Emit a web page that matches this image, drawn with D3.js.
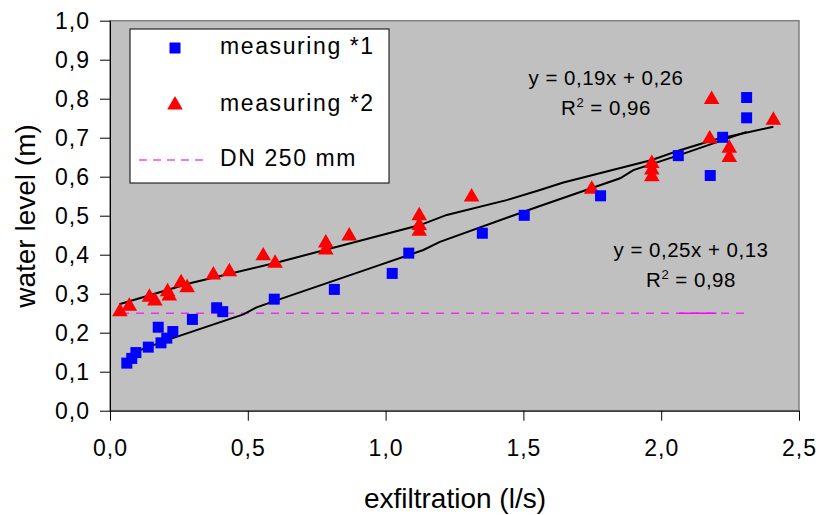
<!DOCTYPE html>
<html>
<head>
<meta charset="utf-8">
<script src="https://cdn.jsdelivr.net/npm/d3@7"></script>
<style>
  body { margin: 0; background: #fff; }
  text { font-family: "Liberation Sans", Arial, sans-serif; fill: #000; }
</style>
</head>
<body>
<div id="chart"></div>
<script>
// measured points (exfiltration l/s, water level m)
const measuring1 = [
  [0.061, 0.122], [0.079, 0.134], [0.094, 0.149], [0.139, 0.163], [0.175, 0.214],
  [0.185, 0.174], [0.206, 0.186], [0.228, 0.203], [0.299, 0.234], [0.387, 0.264],
  [0.409, 0.254], [0.596, 0.286], [0.814, 0.311], [1.024, 0.352], [1.084, 0.404],
  [1.351, 0.455], [1.503, 0.501], [1.780, 0.551], [2.062, 0.654], [2.178, 0.603],
  [2.223, 0.701], [2.310, 0.803], [2.310, 0.751]
];
const measuring2 = [
  [0.036, 0.254], [0.070, 0.268], [0.143, 0.291], [0.163, 0.281], [0.209, 0.305],
  [0.215, 0.294], [0.258, 0.328], [0.280, 0.315], [0.375, 0.348], [0.433, 0.356],
  [0.556, 0.397], [0.599, 0.378], [0.783, 0.430], [0.783, 0.412], [0.868, 0.448],
  [1.122, 0.500], [1.122, 0.475], [1.122, 0.460], [1.312, 0.548], [1.748, 0.568],
  [1.966, 0.634], [1.966, 0.617], [1.966, 0.600], [2.176, 0.697], [2.183, 0.798],
  [2.247, 0.673], [2.247, 0.649], [2.407, 0.745]
];
// trend lines as drawn in the picture
const trend2 = [
  [0.034, 0.273], [0.290, 0.327], [0.617, 0.382], [1.125, 0.476], [1.222, 0.502],
  [1.439, 0.540], [1.560, 0.566], [1.645, 0.585], [1.966, 0.643], [2.068, 0.668],
  [2.189, 0.694], [2.407, 0.728]
];
const trend1 = [
  [0.063, 0.143], [0.206, 0.181], [0.484, 0.247], [0.532, 0.265], [0.617, 0.286],
  [0.943, 0.365], [1.137, 0.412], [1.197, 0.433], [1.560, 0.525], [1.851, 0.596],
  [1.899, 0.617], [2.068, 0.656], [2.310, 0.715]
];
const dnLine = [[0.04, 0.25], [2.315, 0.25]];
const dnSolid = [[2.065, 0.25], [2.20, 0.25]];

const xTicks = [0, 0.5, 1.0, 1.5, 2.0, 2.5];
const yTicks = [0, 0.1, 0.2, 0.3, 0.4, 0.5, 0.6, 0.7, 0.8, 0.9, 1.0];

const legendLabels = ["measuring *1", "measuring *2", "DN 250 mm"];
const eq2 = ["y = 0,19x + 0,26", "0,96"];
const eq1 = ["y = 0,25x + 0,13", "0,98"];

const W = 819, H = 515;
const svg = d3.select("#chart").append("svg")
  .attr("width", W).attr("height", H);

const x = d3.scaleLinear().domain([0, 2.5]).range([110, 799]);
const y = d3.scaleLinear().domain([0, 1]).range([410.7, 20.7]);
const fmt = d => d.toFixed(1).replace(".", ",");

// plot area
svg.append("rect")
  .attr("x", x(0)).attr("y", y(1))
  .attr("width", x(2.5) - x(0)).attr("height", y(0) - y(1))
  .attr("fill", "#c0c0c0").attr("stroke", "#808080").attr("stroke-width", 1.5);

// axes
const yAxis = svg.append("g")
  .attr("transform", `translate(${x(0)},0)`)
  .call(d3.axisLeft(y).tickValues(yTicks).tickSize(10).tickSizeOuter(0)
    .tickPadding(10).tickFormat(fmt));
const xAxis = svg.append("g")
  .attr("transform", `translate(0,${y(0)})`)
  .call(d3.axisBottom(x).tickValues(xTicks).tickSize(10).tickSizeOuter(0)
    .tickPadding(19).tickFormat(fmt));
[yAxis, xAxis].forEach(g => {
  g.attr("font-family", null).attr("font-size", null);
  g.selectAll("text").style("font-size", "23px").style("letter-spacing", "1px");
  g.selectAll("path, line").attr("stroke", "#000");
});

// axis titles
svg.append("text")
  .attr("transform", `translate(35,216) rotate(-90)`)
  .attr("text-anchor", "middle")
  .style("font-size", "28px")
  .text("water level (m)");
svg.append("text")
  .attr("x", 455).attr("y", 508)
  .attr("text-anchor", "middle")
  .style("font-size", "28px")
  .text("exfiltration (l/s)");

// DN 250 reference line
const line = d3.line().x(d => x(d[0])).y(d => y(d[1]));
svg.append("path").datum(dnLine).attr("d", line)
  .attr("fill", "none").attr("stroke", "#ff00ff").attr("stroke-width", 1.5)
  .attr("stroke-dasharray", "8,7").attr("opacity", 0.75);
svg.append("path").datum(dnSolid).attr("d", line)
  .attr("fill", "none").attr("stroke", "#ff00ff").attr("stroke-width", 1.5);

// trend lines
[trend1, trend2].forEach(t => {
  svg.append("path").datum(t).attr("d", line)
    .attr("fill", "none").attr("stroke", "#000").attr("stroke-width", 2);
});

// points
const square = d3.symbol(d3.symbolSquare).size(121);
const triangle = d3.symbol(d3.symbolTriangle).size(105);
svg.append("g").selectAll("path").data(measuring2).join("path")
  .attr("transform", d => `translate(${x(d[0])},${y(d[1])})`)
  .attr("d", triangle).attr("fill", "#ff0000");
svg.append("g").selectAll("path").data(measuring1).join("path")
  .attr("transform", d => `translate(${x(d[0])},${y(d[1])})`)
  .attr("d", square).attr("fill", "#0000ff");

// equations
function equation(lines, cx, by) {
  svg.append("text").attr("x", cx).attr("y", by)
    .attr("text-anchor", "middle").style("font-size", "20.5px")
    .style("letter-spacing", "0.5px").text(lines[0]);
  const r = svg.append("text").attr("x", cx).attr("y", by + 30)
    .attr("text-anchor", "middle").style("font-size", "20.5px")
    .style("letter-spacing", "0.5px");
  r.append("tspan").text("R");
  r.append("tspan").attr("dy", -8).style("font-size", "13px").text("2");
  r.append("tspan").attr("dy", 8).text(" = " + lines[1]);
}
equation(eq2, 606, 85);
equation(eq1, 691, 257);

// legend
const legend = svg.append("g");
legend.append("rect")
  .attr("x", 130).attr("y", 29).attr("width", 259).attr("height", 154)
  .attr("fill", "#fff").attr("stroke", "#000").attr("stroke-width", 1);
const rowY = [48, 105, 160];
legend.append("path").attr("transform", `translate(175,${rowY[0]})`)
  .attr("d", square).attr("fill", "#0000ff");
legend.append("path").attr("transform", `translate(175,${rowY[1]})`)
  .attr("d", triangle).attr("fill", "#ff0000");
legend.append("line").attr("x1", 139).attr("x2", 208)
  .attr("y1", rowY[2]).attr("y2", rowY[2])
  .attr("stroke", "#ff44ff").attr("stroke-width", 1.5).attr("stroke-dasharray", "8,6");
legendLabels.forEach((t, i) => {
  legend.append("text").attr("x", 220).attr("y", rowY[i] + 6)
    .style("font-size", "23px").style("letter-spacing", "1.6px").text(t);
});
</script>
</body>
</html>
